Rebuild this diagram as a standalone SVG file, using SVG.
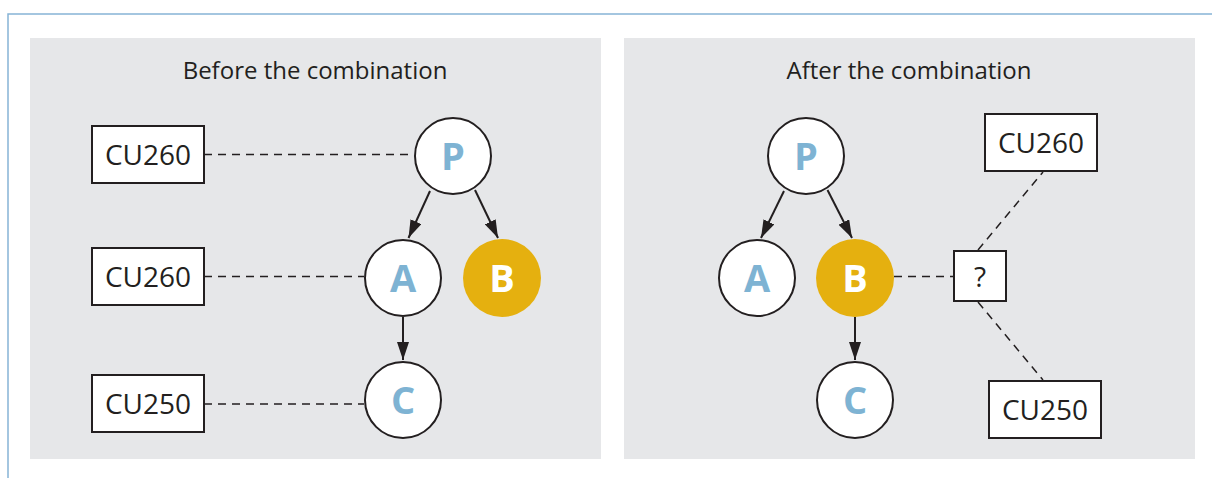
<svg xmlns="http://www.w3.org/2000/svg" width="1212" height="478" viewBox="0 0 1212 478">
<defs>
<style>
.frame{fill:none;stroke:#86b4d6;stroke-width:1.5}
.panel{fill:#e6e7e9}
.title{font-family:"Open Sans","Noto Sans",sans-serif;font-size:24px;fill:#231f20;text-anchor:middle}
.box{fill:#fff;stroke:#231f20;stroke-width:2}
.boxt{font-family:"Open Sans","Noto Sans",sans-serif;font-size:28px;fill:#231f20;text-anchor:middle}
.node{fill:#fff;stroke:#231f20;stroke-width:2}
.nodeB{fill:#e5b00f}
.nl{font-family:"Open Sans","Noto Sans",sans-serif;font-weight:bold;font-size:38px;fill:#7eb3d3;text-anchor:middle}
.nlB{fill:#fff}
.arrow{fill:none;stroke:#231f20;stroke-width:2;marker-end:url(#ah)}
.dash{fill:none;stroke:#231f20;stroke-width:1.5;stroke-dasharray:8 6}
</style>
<marker id="ah" viewBox="0 0 18 12" refX="18" refY="6" markerWidth="18" markerHeight="12" markerUnits="userSpaceOnUse" orient="auto">
<path d="M0,0 L18,6 L0,12 z" fill="#231f20"/>
</marker>
</defs>
<path class="frame" d="M8,478 V14 H1212"/>
<rect class="panel" x="30" y="38" width="571" height="421"/>
<rect class="panel" x="624" y="38" width="571" height="421"/>
<text class="title" x="315" y="79">Before the combination</text>
<text class="title" x="909" y="79">After the combination</text>
<g id="connectors">
<line class="dash" x1="204" y1="154.5" x2="413" y2="154.5"/>
<line class="dash" x1="204" y1="276.5" x2="364" y2="276.5"/>
<line class="dash" x1="204" y1="404" x2="364" y2="404"/>
<line class="arrow" x1="430" y1="191" x2="408.5" y2="238"/>
<line class="arrow" x1="475" y1="190" x2="498" y2="238"/>
<line class="arrow" x1="403" y1="317" x2="403" y2="360"/>
<line class="arrow" x1="784" y1="191" x2="761" y2="238"/>
<line class="arrow" x1="827.5" y1="190" x2="852" y2="238"/>
<line class="arrow" x1="855" y1="317" x2="855" y2="360"/>
<line class="dash" x1="894" y1="276.5" x2="954" y2="276.5"/>
<line class="dash" x1="978" y1="250" x2="1043" y2="172"/>
<line class="dash" x1="978" y1="302" x2="1043" y2="380"/>
</g>
<g id="L-box1"><rect class="box" x="92" y="126" width="112" height="57"/><text class="boxt" x="148" y="165">CU260</text></g>
<g id="L-box2"><rect class="box" x="92" y="248" width="112" height="57"/><text class="boxt" x="148" y="287">CU260</text></g>
<g id="L-box3"><rect class="box" x="92" y="375" width="112" height="57"/><text class="boxt" x="148" y="414">CU250</text></g>
<g id="L-P"><circle class="node" cx="453" cy="156" r="38"/><text class="nl" x="453" y="170">P</text></g>
<g id="L-A"><circle class="node" cx="403" cy="278" r="38"/><text class="nl" x="403" y="292">A</text></g>
<g id="L-B"><circle class="nodeB" cx="502" cy="278" r="39"/><text class="nl nlB" x="502" y="292">B</text></g>
<g id="L-C"><circle class="node" cx="403" cy="400" r="38"/><text class="nl" x="403" y="414">C</text></g>
<g id="R-P"><circle class="node" cx="806" cy="156" r="38"/><text class="nl" x="806" y="170">P</text></g>
<g id="R-A"><circle class="node" cx="757" cy="278" r="38"/><text class="nl" x="757" y="292">A</text></g>
<g id="R-B"><circle class="nodeB" cx="855" cy="278" r="39"/><text class="nl nlB" x="855" y="292">B</text></g>
<g id="R-C"><circle class="node" cx="855" cy="400" r="38"/><text class="nl" x="855" y="414">C</text></g>
<g id="R-q"><rect class="box" x="954" y="251" width="52" height="50"/><text class="boxt" x="980" y="287" style="font-size:28px">?</text></g>
<g id="R-box1"><rect class="box" x="985" y="114" width="112" height="57"/><text class="boxt" x="1041" y="153">CU260</text></g>
<g id="R-box2"><rect class="box" x="989" y="381" width="112" height="57"/><text class="boxt" x="1045" y="420">CU250</text></g>
</svg>
